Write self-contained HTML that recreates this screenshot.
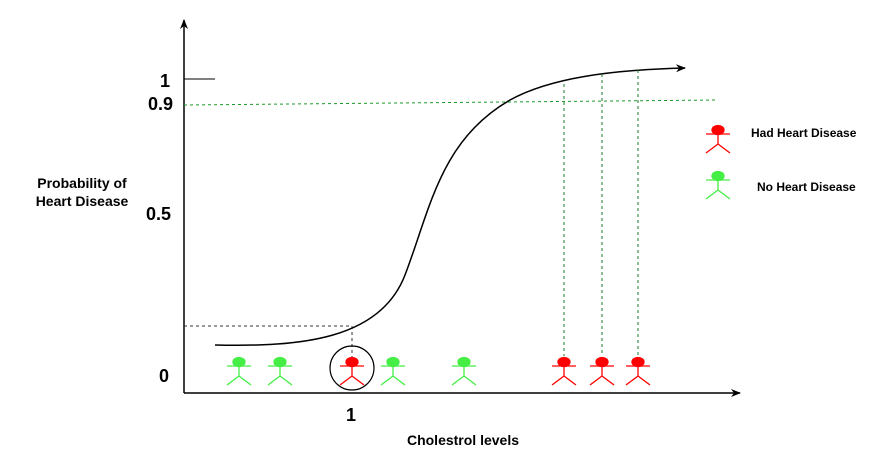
<!DOCTYPE html>
<html><head><meta charset="utf-8"><style>
html,body{margin:0;padding:0;background:#fff;width:887px;height:472px;overflow:hidden}
text{font-family:"Liberation Sans",sans-serif;font-weight:bold;fill:#000}
</style></head><body>
<svg id="chart" width="887" height="472" viewBox="0 0 887 472" xmlns="http://www.w3.org/2000/svg">
<defs><marker id="ah" markerWidth="10" markerHeight="8" refX="9" refY="4" orient="auto" markerUnits="userSpaceOnUse"><path d="M0,0 L10,4 L0,8 L3,4 Z" fill="#000"/></marker></defs>
<line x1="184" y1="393" x2="184" y2="20" stroke="#000" stroke-width="1.5" marker-end="url(#ah)"/>
<line x1="184" y1="393" x2="740" y2="393" stroke="#000" stroke-width="1.5" marker-end="url(#ah)"/>
<line x1="184" y1="79" x2="215" y2="79" stroke="#000"/>
<text x="160" y="87" font-size="18">1</text>
<text x="148" y="110" font-size="18">0.9</text>
<text x="146" y="220" font-size="18">0.5</text>
<text x="159" y="382" font-size="18">0</text>
<text x="346" y="421" font-size="18">1</text>
<text x="463" y="445" font-size="14" text-anchor="middle">Cholestrol levels</text>
<text x="82" y="188" font-size="14" text-anchor="middle">Probability of</text>
<text x="82" y="206" font-size="14" text-anchor="middle">Heart Disease</text>
<line x1="184" y1="105" x2="718" y2="100" stroke="#1a9a2a" stroke-dasharray="3,3"/>
<line x1="184" y1="326" x2="352" y2="326" stroke="#333" stroke-dasharray="3,3"/>
<line x1="352" y1="326" x2="352" y2="357" stroke="#333" stroke-dasharray="3,3"/>
<path d="M215,345 C300,347 380,340 405,275 C430,210 440,140 510,100 C550,78 610,70 685,68" fill="none" stroke="#000" stroke-width="1.5" marker-end="url(#ah)"/>
<circle cx="352" cy="368" r="22" fill="none" stroke="#000" stroke-width="1.2"/>
<g id="figs"></g>
<text x="751" y="137" font-size="12">Had Heart Disease</text>
<text x="757" y="191" font-size="12">No Heart Disease</text>
</svg>
<script>
const figX = [239, 280, 352, 393, 464, 564, 602, 638];
const figDisease = [0, 0, 1, 0, 0, 1, 1, 1];
const guideTopY = [0, 0, 0, 0, 0, 84, 74, 70];
const ns = "http://www.w3.org/2000/svg";
const g = document.getElementById('figs');
function fig(x, top, col, name) {
  const grp = document.createElementNS(ns, 'g');
  
  
  const parts = [
    ['ellipse', {cx: x, cy: top + 4, rx: 6, ry: 4.5, fill: col}],
    ['line', {x1: x - 12, y1: top + 8, x2: x + 12, y2: top + 8}],
    ['line', {x1: x, y1: top + 5, x2: x, y2: top + 18}],
    ['line', {x1: x, y1: top + 18, x2: x - 12, y2: top + 27}],
    ['line', {x1: x, y1: top + 18, x2: x + 12, y2: top + 27}]
  ];
  parts.forEach(([t, a]) => {
    const e = document.createElementNS(ns, t);
    for (const k in a) e.setAttribute(k, a[k]);
    e.setAttribute('stroke', col);
    e.setAttribute('stroke-width', '1.3');
    grp.appendChild(e);
  });
  g.appendChild(grp);
}
figX.forEach((x, i) => {
  const col = figDisease[i] ? '#ff0000' : '#44ee44';
  if (guideTopY[i]) {
    const l = document.createElementNS(ns, 'line');
    
    
    l.setAttribute('x1', x); l.setAttribute('x2', x);
    l.setAttribute('y1', guideTopY[i]); l.setAttribute('y2', 356);
    l.setAttribute('stroke', '#1a7a2a'); l.setAttribute('stroke-dasharray', '3,3');
    g.appendChild(l);
  }
  fig(x, 358, col, figDisease[i] ? 'patient-had-disease' : 'patient-no-disease');
});
fig(718, 126, '#ff0000', 'legend-icon-had');
fig(718, 172, '#44ee44', 'legend-icon-no');
</script>
</body></html>
